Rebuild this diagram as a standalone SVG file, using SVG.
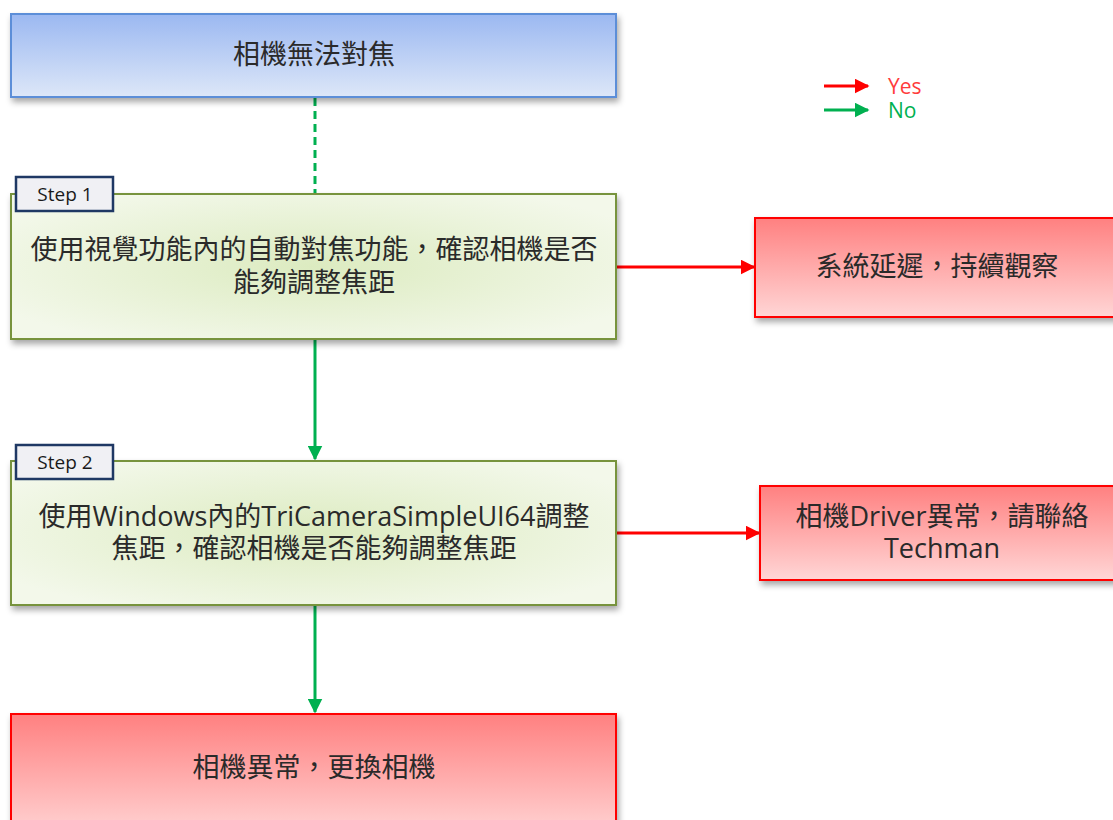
<svg xmlns="http://www.w3.org/2000/svg" width="1113" height="820" viewBox="0 0 1113 820">
<defs>
<linearGradient id="gBlue" x1="0" y1="0" x2="0" y2="1"><stop offset="0" stop-color="#9bb8f1"/><stop offset="1" stop-color="#dde7f8"/></linearGradient>
<linearGradient id="gRed" x1="0" y1="0" x2="0" y2="1"><stop offset="0" stop-color="#ff8080"/><stop offset="1" stop-color="#ffd6d6"/></linearGradient>
<linearGradient id="gRedTall" x1="0" y1="0" x2="0" y2="1"><stop offset="0" stop-color="#ff8080"/><stop offset="1" stop-color="#ffdada"/></linearGradient>
<radialGradient id="gGreen" cx="0.5" cy="0.5" r="0.6"><stop offset="0" stop-color="#dcebc0"/><stop offset="1" stop-color="#f3f8ea"/></radialGradient>
<filter id="sh" x="-5%" y="-10%" width="115%" height="130%"><feDropShadow dx="2" dy="4" stdDeviation="3" flood-color="#000" flood-opacity="0.35"/></filter>
<marker id="aRed" viewBox="0 0 10 10" refX="9" refY="5" markerWidth="5" markerHeight="5" orient="auto" markerUnits="strokeWidth"><path d="M0,0 L10,5 L0,10 z" fill="#ff0000"/></marker>
<marker id="aGreen" viewBox="0 0 10 10" refX="9" refY="5" markerWidth="5" markerHeight="5" orient="auto" markerUnits="strokeWidth"><path d="M0,0 L10,5 L0,10 z" fill="#00b050"/></marker>
</defs>
<style>
.t{font-family:"Open Sans","Noto Sans CJK TC",sans-serif;font-size:27px;fill:#2a2a2a;text-anchor:middle}
.tab{font-family:"Open Sans","Liberation Sans",sans-serif;font-size:19px;fill:#1a1a1a;text-anchor:middle}
.lg{font-family:"Open Sans","Liberation Sans",sans-serif;font-size:21px}
.red{fill:url(#gRed);stroke:#ff0000;stroke-width:2}
.green{fill:url(#gGreen);stroke:#77933c;stroke-width:2}
.tabr{fill:#f0f0f4;stroke:#1f3864;stroke-width:2.5}
.cr{stroke:#ff0000;stroke-width:3;fill:none}
.cg{stroke:#00b050;stroke-width:3;fill:none}
</style>
<rect width="1113" height="820" fill="#ffffff"/>
<g id="connectors">
<line class="cg" x1="315" y1="98" x2="315" y2="193" stroke-dasharray="8,5"/>
<line class="cr" x1="617" y1="267" x2="754" y2="267" marker-end="url(#aRed)"/>
<line class="cg" x1="315" y1="340" x2="315" y2="459" marker-end="url(#aGreen)"/>
<line class="cr" x1="617" y1="533" x2="759" y2="533" marker-end="url(#aRed)"/>
<line class="cg" x1="315" y1="606" x2="315" y2="712" marker-end="url(#aGreen)"/>
</g>
<g id="legend">
<line class="cr" x1="824" y1="86" x2="868" y2="86" marker-end="url(#aRed)"/>
<text class="lg" x="888" y="94" fill="#ff3b3b">Yes</text>
<line class="cg" x1="824" y1="110" x2="868" y2="110" marker-end="url(#aGreen)"/>
<text class="lg" x="888" y="118" fill="#00b050">No</text>
</g>
<g id="start">
<rect x="11" y="14" width="605" height="83" fill="url(#gBlue)" stroke="#5b8ed8" stroke-width="2" filter="url(#sh)"/>
<text class="t" x="314" y="64">相機無法對焦</text>
</g>
<g id="step1">
<rect class="green" x="11" y="194" width="605" height="145" filter="url(#sh)"/>
<text class="t" x="314" y="259">使用視覺功能內的自動對焦功能，確認相機是否</text>
<text class="t" x="314" y="292">能夠調整焦距</text>
<rect class="tabr" x="16" y="177" width="97" height="34"/>
<text class="tab" x="65" y="201">Step 1</text>
</g>
<g id="yes1">
<rect class="red" x="755" y="218" width="370" height="99" filter="url(#sh)"/>
<text class="t" x="937" y="276">系統延遲，持續觀察</text>
</g>
<g id="step2">
<rect class="green" x="11" y="461" width="605" height="144" filter="url(#sh)"/>
<text class="t" x="314" y="526">使用Windows內的TriCameraSimpleUI64調整</text>
<text class="t" x="314" y="558">焦距，確認相機是否能夠調整焦距</text>
<rect class="tabr" x="16" y="445" width="97" height="34"/>
<text class="tab" x="65" y="469">Step 2</text>
</g>
<g id="yes2">
<rect class="red" x="760" y="486" width="365" height="94" filter="url(#sh)"/>
<text class="t" x="942" y="526">相機Driver異常，請聯絡</text>
<text class="t" x="942" y="558">Techman</text>
</g>
<g id="end">
<rect x="11" y="714" width="605" height="130" fill="url(#gRedTall)" stroke="#ff0000" stroke-width="2" filter="url(#sh)"/>
<text class="t" x="314" y="777">相機異常，更換相機</text>
</g>
</svg>
